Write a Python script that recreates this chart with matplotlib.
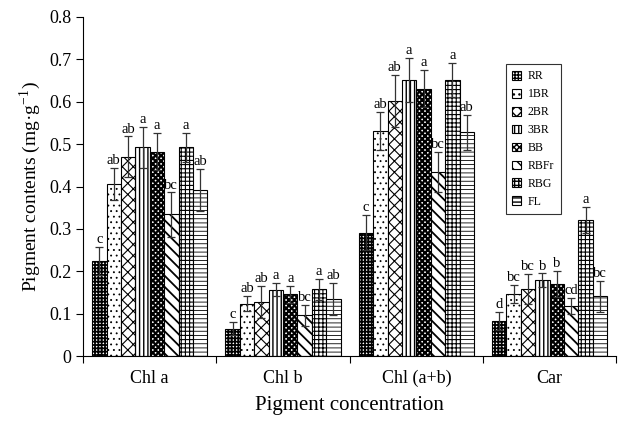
import matplotlib
matplotlib.use("Agg")
import matplotlib.pyplot as plt
import numpy as np

plt.rcParams['font.family'] = ['Liberation Serif', 'DejaVu Serif']
plt.rcParams['mathtext.fontset'] = 'stix'

categories = ["Chl a", "Chl b", "Chl (a+b)", "Car"]
treatments = ["RR", "1BR", "2BR", "3BR", "BB", "RBFr", "RBG", "FL"]

# values[treatment][category]
values = {
    "RR":   [0.225, 0.065, 0.291, 0.083],
    "1BR":  [0.406, 0.124, 0.530, 0.146],
    "2BR":  [0.470, 0.127, 0.602, 0.158],
    "3BR":  [0.492, 0.157, 0.651, 0.179],
    "BB":   [0.482, 0.146, 0.631, 0.170],
    "RBFr": [0.334, 0.096, 0.434, 0.119],
    "RBG":  [0.492, 0.158, 0.651, 0.321],
    "FL":   [0.392, 0.134, 0.528, 0.141],
}
errors = {
    "RR":   [0.033, 0.016, 0.041, 0.022],
    "1BR":  [0.037, 0.018, 0.045, 0.021],
    "2BR":  [0.048, 0.038, 0.061, 0.036],
    "3BR":  [0.048, 0.015, 0.052, 0.016],
    "BB":   [0.044, 0.020, 0.044, 0.031],
    "RBFr": [0.052, 0.024, 0.048, 0.019],
    "RBG":  [0.035, 0.025, 0.041, 0.030],
    "FL":   [0.049, 0.038, 0.041, 0.037],
}
letters = {
    "RR":   ["c", "c", "c", "d"],
    "1BR":  ["ab", "ab", "ab", "bc"],
    "2BR":  ["ab", "ab", "ab", "bc"],
    "3BR":  ["a", "a", "a", "b"],
    "BB":   ["a", "a", "a", "b"],
    "RBFr": ["bc", "bc", "bc", "cd"],
    "RBG":  ["a", "a", "a", "a"],
    "FL":   ["ab", "ab", "ab", "bc"],
}
hatches = {
    "RR": "+++++",
    "1BR": "...",
    "2BR": "xxx",
    "3BR": "||||",
    "BB": "xxxxxx",
    "RBFr": "\\\\\\",
    "RBG": "++++",
    "FL": "----",
}
hatch_lw = {
    "RR": 1.3, "1BR": 0.6, "2BR": 0.8, "3BR": 1.0,
    "BB": 1.6, "RBFr": 1.3, "RBG": 0.8, "FL": 0.6,
}

fig = plt.figure(figsize=(6.2, 4.21), dpi=100)
ax = fig.add_axes([0.134, 0.154, 0.86, 0.806])

n = len(treatments)
width = 0.108
x = np.arange(len(categories))
handles = []
for i, t in enumerate(treatments):
    pos = x + (i - (n - 1) / 2) * width
    with plt.rc_context({'hatch.linewidth': hatch_lw[t]}):
        b = ax.bar(pos, values[t], width, color="white", edgecolor="black",
                   hatch=hatches[t], linewidth=0.8, label=t)
    for p in b.patches:
        if hasattr(p, "set_hatch_linewidth"):
            p.set_hatch_linewidth(hatch_lw[t])
    handles.append(b)
    ax.errorbar(pos, values[t], yerr=errors[t], fmt="none", ecolor="#333333",
                elinewidth=0.9, capsize=3, capthick=0.9)
    for p, v, e, l in zip(pos, values[t], errors[t], letters[t]):
        ax.text(p, v + e + 0.002, l, ha="center", va="bottom", fontsize=10.5)

ax.set_xlim(-0.5, len(categories) - 0.5)
ax.set_ylim(0, 0.8)
ax.set_yticks(np.arange(0, 0.81, 0.1))
ax.set_yticklabels(["0"] + [f"{v:.1f}" for v in np.arange(0.1, 0.81, 0.1)])
ax.set_xticks(np.arange(len(categories) + 1) - 0.5)
ax.set_xticklabels([])
ax.set_xticks(x, minor=True)
ax.set_xticklabels(categories, minor=True)
ax.tick_params(axis="x", which="minor", length=0, pad=10, labelsize=13)
ax.tick_params(axis="x", which="major", direction="out", length=5)
ax.tick_params(axis="y", direction="out", length=5, labelsize=13)
for s in ["top", "right"]:
    ax.spines[s].set_visible(False)

ax.set_ylabel("Pigment contents (mg·g$^{\\mathregular{-1}}$)", fontsize=14)
ax.set_xlabel("Pigment concentration", fontsize=15, labelpad=6)

leg = ax.legend(handles=handles, labels=treatments, loc="upper left",
                bbox_to_anchor=(0.793, 0.861), fontsize=8.5, frameon=True,
                fancybox=False, edgecolor="black", handlelength=0.75,
                handleheight=0.75, handletextpad=0.55, labelspacing=0.5,
                borderpad=0.55, borderaxespad=0)
leg.get_frame().set_linewidth(0.8)

fig.savefig("out.png", dpi=100)
